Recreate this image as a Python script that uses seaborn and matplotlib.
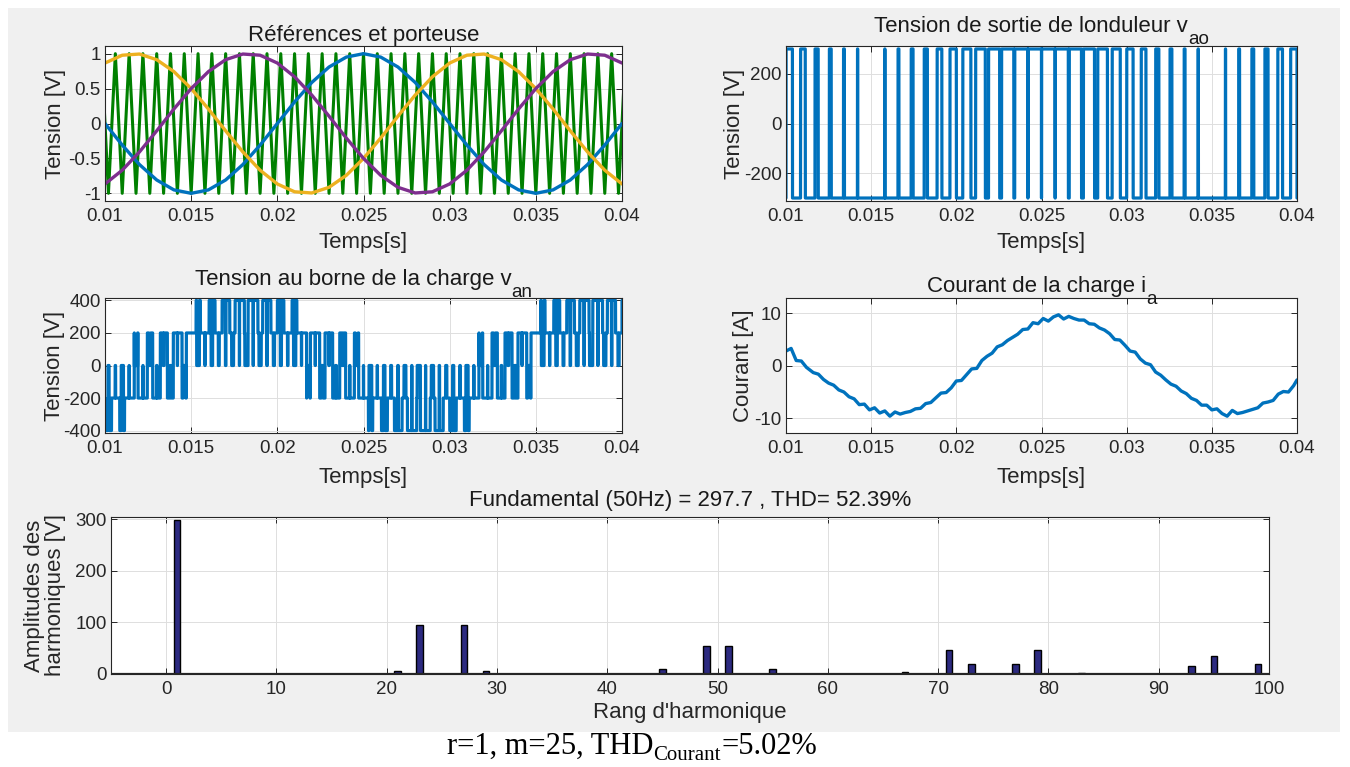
import matplotlib
matplotlib.use("Agg")
import matplotlib.pyplot as plt
from matplotlib.patches import Rectangle
from matplotlib.ticker import FormatStrFormatter
import numpy as np
import pandas as pd
import seaborn as sns

# --- data ---------------------------------------------------------------

# reference waves [V], sampled every 1 ms from 0.01 s to 0.04 s
t_ref = [0.010, 0.011, 0.012, 0.013, 0.014, 0.015, 0.016, 0.017, 0.018, 0.019,
         0.020, 0.021, 0.022, 0.023, 0.024, 0.025, 0.026, 0.027, 0.028, 0.029,
         0.030, 0.031, 0.032, 0.033, 0.034, 0.035, 0.036, 0.037, 0.038, 0.039,
         0.040]
ref_a = [0.0, -0.309, -0.588, -0.809, -0.951, -1.0, -0.951, -0.809, -0.588, -0.309,
         0.0, 0.309, 0.588, 0.809, 0.951, 1.0, 0.951, 0.809, 0.588, 0.309,
         0.0, -0.309, -0.588, -0.809, -0.951, -1.0, -0.951, -0.809, -0.588, -0.309,
         0.0]
ref_b = [0.866, 0.978, 0.995, 0.914, 0.743, 0.5, 0.208, -0.105, -0.407, -0.669,
         -0.866, -0.978, -0.995, -0.914, -0.743, -0.5, -0.208, 0.105, 0.407, 0.669,
         0.866, 0.978, 0.995, 0.914, 0.743, 0.5, 0.208, -0.105, -0.407, -0.669,
         -0.866]
ref_c = [-0.866, -0.669, -0.407, -0.105, 0.208, 0.5, 0.743, 0.914, 0.995, 0.978,
         0.866, 0.669, 0.407, 0.105, -0.208, -0.5, -0.743, -0.914, -0.995, -0.978,
         -0.866, -0.669, -0.407, -0.105, 0.208, 0.5, 0.743, 0.914, 0.995, 0.978,
         0.866]

# triangular carrier (m=25): times of its tops (+1) and bottoms (-1) [s]
carrier_tops = [0.0098, 0.0106, 0.0114, 0.0122, 0.0130, 0.0138, 0.0146, 0.0154,
                0.0162, 0.0170, 0.0178, 0.0186, 0.0194, 0.0202, 0.0210, 0.0218,
                0.0226, 0.0234, 0.0242, 0.0250, 0.0258, 0.0266, 0.0274, 0.0282,
                0.0290, 0.0298, 0.0306, 0.0314, 0.0322, 0.0330, 0.0338, 0.0346,
                0.0354, 0.0362, 0.0370, 0.0378, 0.0386, 0.0394, 0.0402]
carrier_bottoms = [0.0102, 0.0110, 0.0118, 0.0126, 0.0134, 0.0142, 0.0150, 0.0158,
                   0.0166, 0.0174, 0.0182, 0.0190, 0.0198, 0.0206, 0.0214, 0.0222,
                   0.0230, 0.0238, 0.0246, 0.0254, 0.0262, 0.0270, 0.0278, 0.0286,
                   0.0294, 0.0302, 0.0310, 0.0318, 0.0326, 0.0334, 0.0342, 0.0350,
                   0.0358, 0.0366, 0.0374, 0.0382, 0.0390, 0.0398]

leg_level = 300  # inverter leg voltage, +/- [V]

# load current i_a [A], read every 0.3 ms
i_t = [0.0100, 0.0103, 0.0106, 0.0109, 0.0112, 0.0116, 0.0119, 0.0122, 0.0125,
       0.0128, 0.0131, 0.0134, 0.0137, 0.0140, 0.0143, 0.0146, 0.0149, 0.0152,
       0.0155, 0.0158, 0.0161, 0.0164, 0.0167, 0.0170, 0.0173, 0.0176, 0.0179,
       0.0182, 0.0185, 0.0188, 0.0191, 0.0194, 0.0197, 0.0200, 0.0203, 0.0206,
       0.0209, 0.0212, 0.0215, 0.0218, 0.0221, 0.0224, 0.0227, 0.0230, 0.0233,
       0.0236, 0.0239, 0.0242, 0.0245, 0.0248, 0.0251, 0.0254, 0.0257, 0.0260,
       0.0263, 0.0266, 0.0269, 0.0272, 0.0275, 0.0278, 0.0281, 0.0284, 0.0287,
       0.0290, 0.0293, 0.0296, 0.0299, 0.0302, 0.0305, 0.0308, 0.0311, 0.0314,
       0.0317, 0.0320, 0.0323, 0.0326, 0.0329, 0.0332, 0.0335, 0.0338, 0.0341,
       0.0344, 0.0347, 0.0350, 0.0353, 0.0356, 0.0359, 0.0362, 0.0365, 0.0368,
       0.0371, 0.0374, 0.0377, 0.0380, 0.0383, 0.0386, 0.0389, 0.0392, 0.0395,
       0.0398, 0.0400]
i_a = [2.8, 3.3, 1.0, 0.9, -0.3, -1.3, -1.6, -2.6, -3.3,
       -3.7, -4.6, -5.0, -5.9, -6.3, -7.4, -7.3, -8.4, -8.0,
       -9.0, -8.6, -9.6, -8.8, -9.2, -8.9, -8.7, -8.2, -8.1,
       -7.2, -7.0, -6.1, -5.2, -5.1, -4.2, -2.9, -2.8, -1.7,
       -0.6, -0.5, 1.0, 1.8, 2.4, 3.6, 4.0, 4.8, 5.4,
       6.0, 6.9, 7.0, 8.2, 8.0, 9.0, 8.5, 9.3, 9.7,
       8.9, 9.4, 9.0, 8.7, 8.7, 8.0, 7.9, 7.2, 6.8,
       6.1, 5.0, 4.9, 3.9, 2.8, 2.6, 1.3, 0.5, 0.2,
       -1.2, -1.8, -2.7, -3.5, -3.9, -4.8, -5.3, -6.2, -6.6,
       -7.5, -7.5, -8.4, -8.2, -9.1, -9.6, -8.5, -9.1, -8.9,
       -8.6, -8.3, -8.0, -7.1, -6.9, -6.6, -5.4, -4.9, -5.0,
       -3.8, -2.7]

# spectrum of v_an
harm_order = [1, 21, 23, 27, 29, 45, 49, 51, 55, 67, 71, 73, 77, 79, 83, 93, 95, 99]
harm_amp = [297.7, 5, 95, 95, 5, 10, 55, 55, 10, 3, 47, 19, 19, 47, 2.5, 16, 35, 20]

# --- derived traces -------------------------------------------------------

carrier = pd.DataFrame({
    "t": carrier_tops + carrier_bottoms,
    "v": [1.0] * len(carrier_tops) + [-1.0] * len(carrier_bottoms),
}).sort_values("t")

t = np.linspace(0.01, 0.04, 30001)
car = np.interp(t, carrier["t"], carrier["v"])


def leg(ref):
    # leg is high while the reference is above the carrier
    return np.where(np.interp(t, t_ref, ref) > car, leg_level, -leg_level)


v_a, v_b, v_c = leg(ref_a), leg(ref_b), leg(ref_c)
v_out = pd.DataFrame({"t": t, "v": v_a})
# load phase voltage (the trace in the figure follows the purple reference)
v_load = pd.DataFrame({"t": t, "v": (2 * v_c - v_a - v_b) / 3})

# --- style ----------------------------------------------------------------

sns.set_theme(style="ticks")
plt.rcParams.update({
    "font.family": ["Liberation Sans", "DejaVu Sans"],
    "axes.unicode_minus": False,
    "xtick.direction": "in",
    "ytick.direction": "in",
    "xtick.top": True,
    "ytick.right": True,
    "xtick.major.size": 4,
    "ytick.major.size": 4,
    "xtick.major.width": 0.7,
    "ytick.major.width": 0.7,
    "xtick.major.pad": 5,
    "ytick.major.pad": 3,
    "axes.edgecolor": "#262626",
    "axes.linewidth": 0.8,
    "xtick.color": "#262626",
    "ytick.color": "#262626",
    "axes.labelcolor": "#262626",
    "text.color": "#1a1a1a",
    "grid.color": "#dedede",
    "grid.linewidth": 0.7,
    "axes.facecolor": "white",
})

TICK = 13.5
LAB = 16
TIT = 16
SUB = TIT * 0.85

BLUE = "#0072BD"
YELLOW = "#EDB120"
PURPLE = "#7E2F8E"
GREEN = "#008000"

fig = plt.figure(figsize=(13.5, 7.67), dpi=100)
fig.patch.set_facecolor("white")
W, H = 1350, 767
fig.patches.append(Rectangle((8 / W, 1 - 732 / H), 1332 / W, 724 / H,
                             transform=fig.transFigure, facecolor="#f0f0f0",
                             edgecolor="none", zorder=-5))
renderer = fig.canvas.get_renderer()


def box(l, t_, r, b):
    return [l / W, 1 - b / H, (r - l) / W, (b - t_) / H]


subs = []


def title_sub(ax, main, sub, pad):
    # MATLAB-like title: main text centred together with a lowered subscript
    probe = fig.text(0, 0, sub, fontsize=SUB)
    w = probe.get_window_extent(renderer).width
    probe.remove()
    ax.set_title(main, fontsize=TIT, pad=pad, x=0.5 - (w / 2) / ax.bbox.width)
    subs.append((ax, sub))


ax_ref = fig.add_axes(box(105, 46, 622, 201))
ax_vao = fig.add_axes(box(786, 46, 1297, 201))
ax_van = fig.add_axes(box(105, 298, 622, 433))
ax_cur = fig.add_axes(box(786, 298, 1297, 433))
ax_thd = fig.add_axes(box(111, 517, 1269, 674))

# references and carrier
sns.lineplot(data=carrier, x="t", y="v", ax=ax_ref, color=GREEN, lw=2.2,
             estimator=None, sort=False)
sns.lineplot(x=t_ref, y=ref_a, ax=ax_ref, color=BLUE, lw=2.4, estimator=None)
sns.lineplot(x=t_ref, y=ref_b, ax=ax_ref, color=YELLOW, lw=2.4, estimator=None)
sns.lineplot(x=t_ref, y=ref_c, ax=ax_ref, color=PURPLE, lw=2.4, estimator=None)
ax_ref.set_ylim(-1.11, 1.11)
ax_ref.set_yticks([-1, -0.5, 0, 0.5, 1])
ax_ref.set_ylabel("Tension [V]", fontsize=LAB, va="center")
ax_ref.yaxis.set_label_coords(-0.095, 0.5)

sns.lineplot(data=v_out, x="t", y="v", ax=ax_vao, color=BLUE, lw=2.3, estimator=None)
ax_vao.set_ylim(-312, 312)
ax_vao.set_yticks([-200, 0, 200])
ax_vao.set_ylabel("Tension [V]", fontsize=LAB, va="center")
ax_vao.yaxis.set_label_coords(-0.10, 0.5)

sns.lineplot(data=v_load, x="t", y="v", ax=ax_van, color=BLUE, lw=2.3, estimator=None)
ax_van.set_ylim(-415, 415)
ax_van.set_yticks([-400, -200, 0, 200, 400])
ax_van.set_ylabel("Tension [V]", fontsize=LAB, va="center")
ax_van.yaxis.set_label_coords(-0.098, 0.5)

sns.lineplot(x=i_t, y=i_a, ax=ax_cur, color=BLUE, lw=2.4, estimator=None)
ax_cur.set_ylim(-12.8, 12.9)
ax_cur.set_yticks([-10, 0, 10])
ax_cur.set_ylabel("Courant [A]", fontsize=LAB, va="center")
ax_cur.yaxis.set_label_coords(-0.084, 0.5)

for ax, ylab in [(ax_ref, -0.268), (ax_vao, -0.268), (ax_van, -0.333), (ax_cur, -0.333)]:
    ax.set_xlim(0.01, 0.04)
    ax.set_xticks([0.01, 0.015, 0.02, 0.025, 0.03, 0.035, 0.04])
    ax.xaxis.set_major_formatter(FormatStrFormatter("%g"))
    ax.yaxis.set_major_formatter(FormatStrFormatter("%g"))
    ax.set_xlabel("Temps[s]", fontsize=LAB, va="center")
    ax.xaxis.set_label_coords(0.5, ylab)
    ax.grid(True)
    ax.tick_params(labelsize=TICK)

ax_ref.set_title("Références et porteuse", fontsize=TIT, pad=3)
title_sub(ax_vao, "Tension de sortie de londuleur v", "ao", pad=10)
title_sub(ax_van, "Tension au borne de la charge v", "an", pad=9)
title_sub(ax_cur, "Courant de la charge i", "a", pad=4)

# harmonic spectrum
sns.barplot(x=harm_order, y=harm_amp, native_scale=True, width=0.3, ax=ax_thd,
            color="#2c2a80", edgecolor="black", linewidth=1.0, saturation=1)
ax_thd.axhline(0, color="#262626", lw=1.6, zorder=3)
ax_thd.set_xlim(-5, 100)
ax_thd.set_ylim(0, 304)
ax_thd.set_xticks(range(0, 101, 10))
ax_thd.set_yticks([0, 100, 200, 300])
ax_thd.grid(True)
ax_thd.set_axisbelow(True)
ax_thd.tick_params(labelsize=TICK)
ax_thd.set_title("Fundamental (50Hz) = 297.7 , THD= 52.39%", fontsize=TIT, pad=8)
ax_thd.set_xlabel("Rang d'harmonique", fontsize=LAB, va="center")
ax_thd.xaxis.set_label_coords(0.5, -0.2425)
ax_thd.set_ylabel("Amplitudes des\nharmoniques [V]", fontsize=LAB, va="center",
                  linespacing=1.05)
ax_thd.yaxis.set_label_coords(-0.057, 0.5)

# place subscripts once the titles have their final positions
fig.canvas.draw()
for ax, sub in subs:
    bb = ax.title.get_window_extent(renderer)
    fig.text(bb.x1 / W, (bb.y0 - 2) / H, sub, fontsize=SUB, ha="left",
             va="center", color="#1a1a1a")

# caption below the figure, with its subscript
parts = [("r=1, m=25, THD", 22, 0), ("Courant", 15, -6), ("=5.02%", 22, 0)]
probe = [fig.text(0, 0, s, family="Liberation Serif", fontsize=fs) for s, fs, _ in parts]
widths = [p.get_window_extent(renderer).width for p in probe]
for p in probe:
    p.remove()
x = 632 - sum(widths) / 2
for (s, fs, dy), w in zip(parts, widths):
    fig.text(x / W, (767 - 754 + dy) / H, s, family="Liberation Serif",
             fontsize=fs, ha="left", va="baseline", color="black")
    x += w

fig.savefig("out.png", dpi=100, facecolor="white")
